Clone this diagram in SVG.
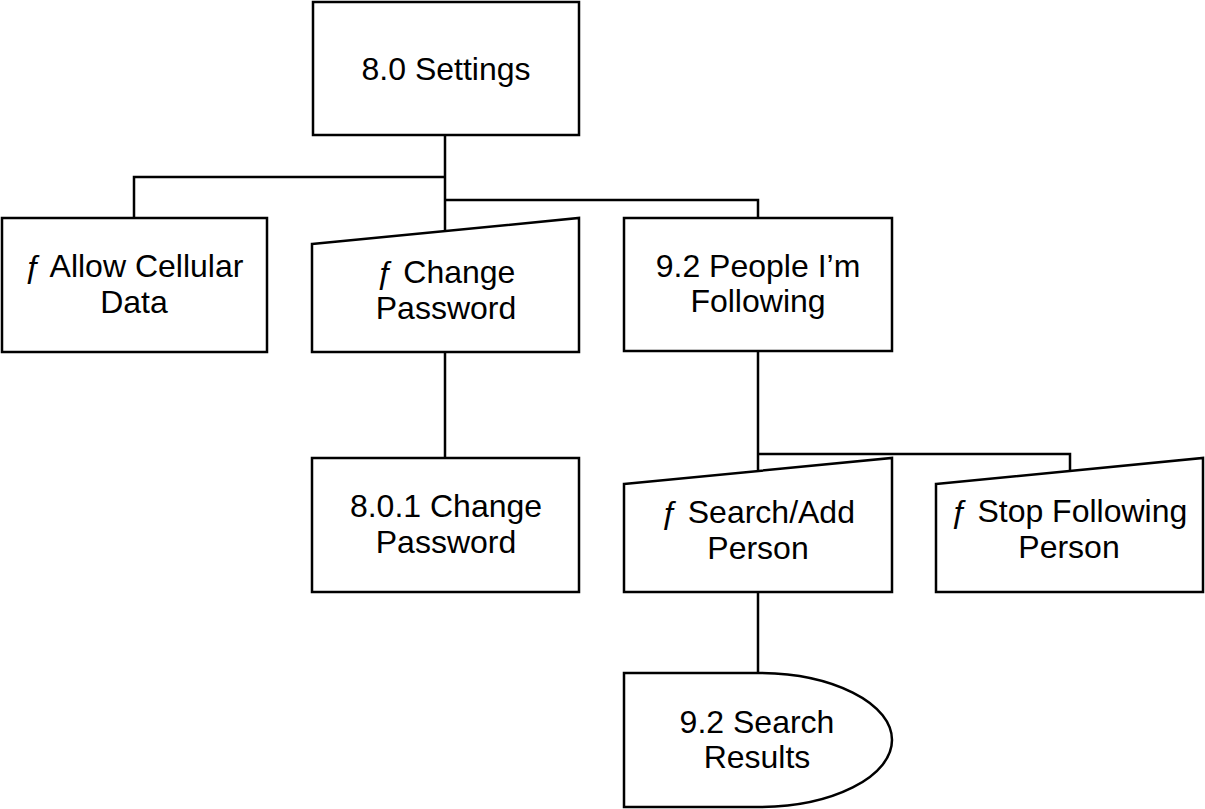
<svg xmlns="http://www.w3.org/2000/svg" width="1205" height="809" viewBox="0 0 1205 809">
<style>
.s{fill:#fff;stroke:#000;stroke-width:2.5}
.c{fill:none;stroke:#000;stroke-width:2.5}
text{font-family:"Liberation Sans",Arial,sans-serif;font-size:32px;fill:#000;text-anchor:middle}
</style>
<rect width="1205" height="809" fill="#fff"/>
<g id="connectors">
<path class="c" d="M445,135 V231 M445,177 H134 V218 M445,200 H758 V218 M445,352 V458 M758,351 V471 M758,454 H1070 V471 M758,592 V673"/>
</g>
<g id="settings">
<rect class="s" x="313" y="2" width="266" height="133"/>
<text x="446" y="80">8.0 Settings</text>
</g>
<g id="allow-cellular">
<rect class="s" x="2" y="218" width="265" height="134"/>
<text x="134" y="277">ƒ Allow Cellular</text>
<text x="134" y="313">Data</text>
</g>
<g id="change-password-fn">
<path class="s" d="M312,244 L579,218 V352 H312 Z"/>
<text x="446" y="283">ƒ Change</text>
<text x="446" y="319">Password</text>
</g>
<g id="people-following">
<rect class="s" x="624" y="218" width="268" height="133"/>
<text x="758" y="277">9.2 People I’m</text>
<text x="758" y="312">Following</text>
</g>
<g id="change-password">
<rect class="s" x="312" y="458" width="267" height="134"/>
<text x="446" y="517">8.0.1 Change</text>
<text x="446" y="553">Password</text>
</g>
<g id="search-add">
<path class="s" d="M624,484 L892,458 V592 H624 Z"/>
<text x="758" y="523">ƒ Search/Add</text>
<text x="758" y="559">Person</text>
</g>
<g id="stop-following">
<path class="s" d="M936,484 L1203,458 V592 H936 Z"/>
<text x="1069" y="522">ƒ Stop Following</text>
<text x="1069" y="558">Person</text>
</g>
<g id="search-results">
<path class="s" d="M624,673 H758 A134,67 0 0 1 758,807 H624 Z"/>
<text x="757" y="733">9.2 Search</text>
<text x="757" y="768">Results</text>
</g>
</svg>
